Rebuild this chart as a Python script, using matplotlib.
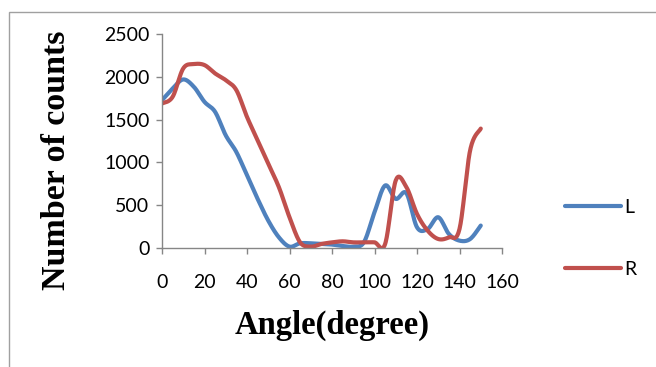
import numpy as np
import matplotlib
matplotlib.use("Agg")
import matplotlib.pyplot as plt
from matplotlib.patches import Rectangle

angles = [0, 5, 10, 15, 20, 25, 30, 35, 40, 45, 50, 55, 60, 65, 70, 75, 80, 85,
          90, 95, 100, 105, 110, 115, 120, 125, 130, 135, 140, 145, 150]
L = [1727, 1863, 1969, 1883, 1707, 1590, 1316, 1121, 848, 574, 320, 125, 16, 55,
     55, 47, 40, 23, 16, 66, 418, 730, 574, 640, 242, 222, 359, 164, 86, 105, 262]
R = [1688, 1766, 2098, 2148, 2137, 2039, 1961, 1844, 1531, 1258, 984, 711, 359,
     66, 16, 47, 66, 78, 66, 66, 66, 47, 789, 711, 398, 203, 105, 125, 222, 1141, 1395]
series_names = ["L", "R"]
colors = ["#4F81BD", "#C0504D"]
xticks = [0, 20, 40, 60, 80, 100, 120, 140, 160]
yticks = [0, 500, 1000, 1500, 2000, 2500]


def smooth(x, y, n=20):
    # Catmull-Rom style smoothing like Excel smoothed lines
    x = np.asarray(x, float)
    y = np.asarray(y, float)
    px = np.concatenate([[x[0]], x, [x[-1]]])
    py = np.concatenate([[y[0]], y, [y[-1]]])
    xs, ys = [], []
    t = np.linspace(0, 1, n, endpoint=False)
    for i in range(1, len(px) - 2):
        p0, p1, p2, p3 = (np.array([px[j], py[j]]) for j in (i - 1, i, i + 1, i + 2))
        c1 = p1 + (p2 - p0) / 6
        c2 = p2 - (p3 - p1) / 6
        b = ((1 - t) ** 3)[:, None] * p1 + (3 * (1 - t) ** 2 * t)[:, None] * c1 \
            + (3 * (1 - t) * t ** 2)[:, None] * c2 + (t ** 3)[:, None] * p2
        xs.append(b[:, 0]); ys.append(b[:, 1])
    xs.append([x[-1]]); ys.append([y[-1]])
    return np.concatenate(xs), np.concatenate(ys)


fig = plt.figure(figsize=(6.56, 3.67), dpi=100)
W, H = 656, 367
ax = fig.add_axes([162 / W, 1 - 248 / H, 340 / W, 214 / H])

for name, vals, c in zip(series_names, [L, R], colors):
    sx, sy = smooth(angles, vals)
    ax.plot(sx, sy, color=c, lw=3.0, solid_capstyle="round", label=name)

ax.set_xlim(0, 160)
ax.set_ylim(0, 2500)
ax.set_xticks(xticks)
ax.set_yticks(yticks)
for s in ["top", "right"]:
    ax.spines[s].set_visible(False)
for s in ["left", "bottom"]:
    ax.spines[s].set_color("#868686")
    ax.spines[s].set_linewidth(1.0)
ax.tick_params(colors="#868686", length=4, width=1, labelcolor="black", labelsize=14, pad=5)
for lab in ax.get_xticklabels() + ax.get_yticklabels():
    lab.set_family("Lato")
ax.tick_params(axis="x", pad=15)

ax.text(-0.309, 0.41, "Number of counts", transform=ax.transAxes, rotation=90,
        ha="center", va="center", family="Liberation Serif", fontweight="bold", fontsize=24.5)
ax.text(0.5, -0.36, "Angle(degree)", transform=ax.transAxes,
        ha="center", va="center", family="Liberation Serif", fontweight="bold", fontsize=23.5)

leg = ax.legend(loc="center left", bbox_to_anchor=(1.134, 0.045), frameon=False,
                handlelength=2.9, labelspacing=2.3, handletextpad=0.15,
                prop={"family": "Lato", "size": 14})

fig.patches.append(Rectangle((9 / W, -0.1), 1.0, 1 - 12 / H + 0.1, transform=fig.transFigure,
                             fill=False, edgecolor="#A0A0A0", lw=1.0))

fig.savefig("out.png", dpi=100)
